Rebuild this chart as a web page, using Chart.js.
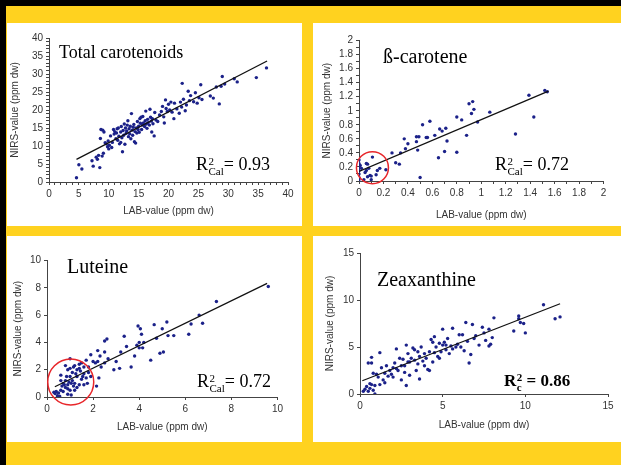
<!DOCTYPE html>
<html>
<head>
<meta charset="utf-8">
<script src="https://cdn.jsdelivr.net/npm/chart.js@4.4.0/dist/chart.umd.min.js"></script>
<style>
  html, body { margin: 0; padding: 0; }
  body { width: 621px; height: 465px; background: #ffd21f; position: relative; overflow: hidden; }
  #topbar { position: absolute; left: 0; top: 0; width: 621px; height: 6px; background: #000; }
  #leftbar { position: absolute; left: 0; top: 0; width: 6px; height: 465px; background: #000; }
  .panel { position: absolute; background: #fff; }
  .panel canvas { position: absolute; left: 0; top: 0; }
</style>
</head>
<body>
<div id="topbar"></div>
<div id="leftbar"></div>
<div class="panel" style="left:7px;top:23px;width:295px;height:203px"><canvas id="c1" width="295" height="203"></canvas></div>
<div class="panel" style="left:313px;top:23px;width:308px;height:203px"><canvas id="c2" width="308" height="203"></canvas></div>
<div class="panel" style="left:7px;top:236px;width:295px;height:206px"><canvas id="c3" width="295" height="206"></canvas></div>
<div class="panel" style="left:313px;top:236px;width:308px;height:206px"><canvas id="c4" width="308" height="206"></canvas></div>
<script>
// Total carotenoids: [LAB, NIRS]
const totalPoints = [[4.6,1.2],[5.0,4.8],[5.5,3.6],[7.2,5.9],[7.4,4.4],[7.9,6.9],[8.1,6.3],[8.3,7.4],[8.5,4.0],[8.6,12.1],[8.7,14.6],[8.9,7.2],[9.0,14.4],[9.1,8.0],[9.2,13.9],[9.4,10.9],[9.6,10.6],[9.8,9.8],[9.9,11.4],[10.0,9.2],[10.1,10.2],[10.3,12.8],[10.5,9.6],[10.6,11.0],[10.8,14.6],[10.9,13.3],[11.0,14.0],[11.2,12.0],[11.3,13.6],[11.4,14.8],[11.5,11.6],[11.6,15.0],[11.7,12.7],[11.8,10.6],[12.0,13.9],[12.0,11.0],[12.1,15.4],[12.2,12.3],[12.3,8.4],[12.4,14.3],[12.5,13.0],[12.6,16.1],[12.7,10.5],[12.8,15.0],[12.9,13.5],[13.0,14.2],[13.1,15.8],[13.2,17.0],[13.3,12.6],[13.4,14.8],[13.5,13.4],[13.6,15.5],[13.7,12.0],[13.8,19.0],[13.9,14.4],[14.0,13.0],[14.1,15.2],[14.2,16.0],[14.3,11.2],[14.4,14.0],[14.5,10.8],[14.6,15.0],[14.7,13.6],[14.8,16.8],[14.9,14.6],[15.0,15.5],[15.1,13.8],[15.2,17.6],[15.3,16.3],[15.4,18.0],[15.5,14.6],[15.6,15.8],[15.7,18.2],[15.8,16.4],[16.0,15.4],[16.1,17.0],[16.2,19.7],[16.3,16.1],[16.4,14.9],[16.5,17.4],[16.6,16.5],[16.8,15.8],[16.9,20.2],[17.0,18.0],[17.1,16.9],[17.2,13.9],[17.3,17.6],[17.4,16.2],[17.6,12.8],[17.7,19.3],[17.9,17.2],[18.2,16.8],[18.5,18.6],[18.8,19.6],[19.0,21.0],[19.2,18.1],[19.3,16.4],[19.5,22.8],[19.6,20.4],[19.8,19.6],[20.0,21.6],[20.2,20.0],[20.4,22.2],[20.6,19.4],[20.9,17.6],[21.0,21.9],[21.4,20.3],[21.8,19.1],[22.0,22.2],[22.2,20.8],[22.3,27.4],[22.5,23.0],[22.8,19.8],[23.0,21.4],[23.3,25.2],[23.5,22.6],[23.7,24.0],[24.2,22.3],[24.5,24.8],[24.8,21.9],[25.1,23.4],[25.4,27.0],[25.6,22.9],[27.0,23.9],[27.5,23.3],[28.0,26.4],[28.5,21.7],[28.8,26.6],[29.0,29.3],[29.4,27.2],[31.0,28.7],[31.5,27.8],[34.7,29.0],[36.4,31.7]];
const totalFit = [[4.6,6.3],[36.5,33.6]];

// ß-carotene
const betaPoints = [[0,0.3],[0,0.25],[0,0.2],[0,0.15],[0,0.1],[0,0.05],[0,0.02],[0.01,0.22],[0.02,0.18],[0.04,0.02],[0.05,0.12],[0.06,0.25],[0.07,0.24],[0.06,0.15],[0.08,0.18],[0.07,0.06],[0.09,0.08],[0.1,0.02],[0.1,0.07],[0.11,0.34],[0.14,0.09],[0.15,0.15],[0.17,0.18],[0.22,0.16],[0.27,0.4],[0.3,0.26],[0.33,0.24],[0.34,0.4],[0.37,0.6],[0.38,0.46],[0.4,0.53],[0.47,0.63],[0.47,0.56],[0.49,0.63],[0.48,0.44],[0.5,0.05],[0.52,0.8],[0.55,0.62],[0.56,0.62],[0.58,0.85],[0.62,0.65],[0.65,0.33],[0.66,0.74],[0.68,0.71],[0.7,0.42],[0.71,0.75],[0.72,0.57],[0.8,0.91],[0.8,0.41],[0.84,0.87],[0.88,0.65],[0.9,1.1],[0.92,0.96],[0.93,1.13],[0.94,1.02],[0.97,0.84],[1.07,0.98],[1.28,0.67],[1.39,1.22],[1.43,0.91],[1.52,1.29],[1.54,1.27]];
const betaFit = [[0,0.135],[1.55,1.28]];
const betaCircle = [[0.11,0.19]];

// Luteine
const luteinPoints = [[9.6,8.1],[7.35,7.0],[6.6,6.0],[6.75,5.4],[6.25,5.35],[6.15,4.6],[5.5,4.5],[5.2,5.5],[5.25,4.5],[5.0,5.0],[5.05,3.3],[4.9,3.2],[4.75,4.3],[4.65,5.3],[4.5,2.7],[4.2,4.0],[4.1,4.6],[4.05,5.0],[4.0,4.0],[3.95,5.2],[3.9,3.8],[4.15,3.6],[4.0,3.6],[3.8,3.0],[3.65,2.2],[3.45,3.7],[3.35,4.45],[3.15,2.1],[3.2,3.3],[3.0,2.6],[2.9,2.0],[2.65,2.8],[2.6,4.25],[2.5,4.1],[2.5,3.3],[2.5,2.5],[2.3,3.0],[2.2,3.4],[2.2,2.6],[2.25,1.4],[2.1,2.5],[2.0,2.6],[2.35,2.2],[2.15,0.8],[1.9,3.1],[1.8,2.2],[1.7,2.7],[1.6,2.2],[1.5,2.5],[1.4,2.1],[1.3,2.0],[1.2,2.3],[1.0,2.8],[1.1,1.8],[0.9,2.0],[0.8,2.3],[0.6,1.6],[0.6,1.2],[0.7,1.0],[0.8,0.7],[0.85,1.5],[1.0,1.5],[1.1,1.2],[1.2,1.0],[1.3,1.5],[1.5,1.3],[1.6,1.7],[1.7,1.4],[1.4,0.9],[0.9,0.6],[1.0,0.5],[1.2,0.5],[1.05,0.15],[0.9,0.2],[0.5,0.3],[0.4,0.4],[0.45,0.1],[0.55,0.05],[0.3,0.35],[0.35,0.25],[0.6,0.5],[0.7,0.4],[0.75,0.9],[1.15,0.8],[1.3,0.7],[1.6,0.9],[1.8,1.8],[1.9,1.5],[1.75,1.0],[0.95,1.1],[1.25,1.7],[1.45,1.9],[1.55,1.5],[0.8,1.2],[0.65,0.8],[1.0,2.1],[1.4,2.4],[1.15,2.2],[1.05,1.0],[0.9,0.9]];
const luteinFit = [[0.34,0.75],[9.55,8.33]];
const luteinCircle = [[1.03,1.1]];

// Zeaxanthine
const zeaPoints = [[12.1,8.2],[11.8,8.0],[11.1,9.5],[10.0,6.5],[9.9,7.5],[9.7,7.6],[9.6,8.3],[9.6,8.0],[9.3,6.7],[8.1,8.1],[8.0,6.0],[7.9,5.3],[7.8,5.1],[7.8,6.9],[7.5,6.5],[7.4,7.1],[7.2,5.2],[7.0,6.2],[6.8,7.4],[6.7,4.2],[6.6,3.3],[6.5,5.6],[6.4,7.6],[6.2,6.3],[6.1,5.0],[6.0,6.3],[5.9,5.3],[5.8,5.0],[5.6,7.0],[5.6,4.8],[5.4,4.3],[5.3,5.9],[5.2,4.7],[5.1,5.5],[5.0,6.9],[5.0,5.2],[4.9,4.5],[4.8,5.4],[4.7,4.0],[4.6,5.0],[4.5,6.1],[4.4,5.5],[4.3,5.8],[4.2,4.5],[4.2,2.5],[4.1,2.6],[4.0,3.8],[3.9,4.3],[3.8,3.5],[3.7,5.0],[3.6,4.0],[3.5,4.5],[3.5,3.2],[3.4,2.5],[3.3,4.7],[3.2,4.9],[3.1,3.8],[3.0,3.4],[3.0,2.0],[2.9,4.3],[2.8,5.2],[2.7,3.0],[2.7,2.3],[2.6,3.7],[2.5,3.0],[2.4,3.8],[2.3,2.5],[2.2,4.8],[2.1,3.3],[2.0,2.8],[2.0,1.8],[1.9,2.1],[1.8,2.5],[1.6,3.0],[1.5,2.2],[1.4,1.5],[1.3,2.8],[1.2,4.4],[1.2,1.0],[1.1,1.8],[1.0,2.1],[0.9,0.9],[0.8,2.2],[0.7,3.9],[0.7,3.3],[0.6,1.1],[0.6,0.6],[0.5,0.3],[0.5,3.3],[0.4,0.8],[0.3,0.5],[0.2,0.3],[0.8,0.4],[0.9,0.0],[0.7,1.0],[1.5,1.2],[2.5,1.5],[2.8,0.9],[3.6,1.6],[3.3,3.6],[4.5,4.4],[5.5,5.1],[6.9,5.9],[3.9,3.0],[4.4,3.4],[2.9,3.4],[2.2,2.7],[1.7,1.9],[5.2,5.2],[4.8,3.8],[6.3,4.6],[7.6,5.7]];
const zeaFit = [[0.14,1.41],[12.1,9.6]];

// axis ranges: [min, max, minor step, label step]
const totalAxis = [0, 40, 1, 5];
const betaAxis = [0, 2, 0.1, 0.2];
const luteinAxis = [0, 10, 2, 2];
const zeaAxis = [0, 15, 5, 5];

const SANS = '"Liberation Sans", Arial, sans-serif';
const SERIF = '"Liberation Serif", "Times New Roman", serif';

// titles and R² labels drawn on top of each panel
const panelText = {
    id: 'panelText',
    afterDraw(chart, args, o) {
        const ctx = chart.ctx;
        ctx.save();
        ctx.fillStyle = '#000';
        ctx.textBaseline = 'alphabetic';
        ctx.textAlign = 'left';
        ctx.font = o.titleSize + 'px ' + SERIF;
        ctx.fillText(o.title, o.titleX, o.titleY);

        const w = o.bold ? 'bold ' : '';
        const big = w + o.rSize + 'px ' + SERIF;
        const small = w + '11px ' + SERIF;
        let x = o.rX;
        ctx.font = big;
        ctx.fillText('R', x, o.rY);
        x += ctx.measureText('R').width + 0.5;
        ctx.font = small;
        ctx.fillText('2', x, o.rY - 5);
        const w2 = ctx.measureText('2').width;
        ctx.fillText(o.sub, x, o.rY + 5);
        x += Math.max(w2, ctx.measureText(o.sub).width);
        ctx.font = big;
        ctx.fillText(o.rest, x, o.rY);
        ctx.restore();
    }
};

function toXY(arr) {
    return arr.map(p => ({ x: p[0], y: p[1] }));
}

function axis(range, fitSize, isX, titleText, titlePad) {
    const [min, max, step, labelStep] = range;
    return {
        type: 'linear',
        position: isX ? 'bottom' : 'left',
        min: min,
        max: max,
        afterFit(scale) {
            if (isX) scale.height = fitSize; else scale.width = fitSize;
        },
        ticks: {
            stepSize: step,
            maxTicksLimit: 100,
            autoSkip: false,
            maxRotation: 0,
            minRotation: 0,
            padding: 3,
            color: '#333',
            font: { family: SANS, size: 10 },
            callback: function (v) {
                const k = Math.round(v / labelStep * 1000) / 1000;
                return Number.isInteger(k) ? String(Math.round(v * 100) / 100) : '';
            }
        },
        grid: {
            display: true,
            drawOnChartArea: false,
            drawTicks: true,
            tickLength: 3,
            tickColor: '#444'
        },
        border: { display: true, color: '#444', width: 1 },
        title: {
            display: true,
            text: titleText,
            color: '#333',
            font: { family: SANS, size: 10 },
            padding: isX ? { top: 0, bottom: titlePad } : { top: titlePad, bottom: 0 }
        }
    };
}

function makeChart(id, c) {
    const datasets = [];
    if (c.circle) {
        datasets.push({
            data: toXY(c.circle),
            pointRadius: c.circleR,
            pointHoverRadius: c.circleR,
            backgroundColor: 'rgba(0,0,0,0)',
            borderColor: '#e8262a',
            borderWidth: 1.5,
            clip: false
        });
    }
    datasets.push({
        data: toXY(c.fit),
        showLine: true,
        pointRadius: 0,
        borderColor: '#111',
        borderWidth: 1.3
    });
    datasets.push({
        data: toXY(c.points),
        pointRadius: 1.7,
        borderWidth: 0,
        backgroundColor: '#1b2189'
    });

    return new Chart(document.getElementById(id), {
        type: 'scatter',
        data: { datasets: datasets },
        options: {
            responsive: false,
            animation: false,
            events: [],
            layout: { padding: { left: 0, top: c.padTop, right: c.padRight, bottom: 0 } },
            plugins: {
                legend: { display: false },
                tooltip: { enabled: false },
                panelText: c.text
            },
            scales: {
                x: axis(c.xAxis, c.xHeight, true, 'LAB-value (ppm dw)', c.xTitlePad),
                y: axis(c.yAxis, c.yWidth, false, 'NIRS-value (ppm dw)', c.yTitlePad)
            }
        },
        plugins: [panelText]
    });
}

makeChart('c1', {
    points: totalPoints, fit: totalFit,
    xAxis: totalAxis, yAxis: totalAxis,
    padTop: 15, padRight: 14, yWidth: 42, xHeight: 44,
    xTitlePad: 9, yTitlePad: 2,
    text: { title: 'Total carotenoids', titleSize: 18, titleX: 52, titleY: 35,
            rX: 189, rY: 147, rSize: 18, sub: 'Cal', rest: '= 0.93' }
});

makeChart('c2', {
    points: betaPoints, fit: betaFit, circle: betaCircle, circleR: 16,
    xAxis: betaAxis, yAxis: betaAxis,
    padTop: 15, padRight: 13, yWidth: 46, xHeight: 45,
    xTitlePad: 5, yTitlePad: 8,
    text: { title: 'ß-carotene', titleSize: 20, titleX: 70, titleY: 40,
            rX: 182, rY: 147, rSize: 18, sub: 'Cal', rest: '= 0.72' }
});

makeChart('c3', {
    points: luteinPoints, fit: luteinFit, circle: luteinCircle, circleR: 23,
    xAxis: luteinAxis, yAxis: luteinAxis,
    padTop: 15, padRight: 13, yWidth: 40, xHeight: 45,
    xTitlePad: 9, yTitlePad: 5,
    text: { title: 'Luteine', titleSize: 20, titleX: 60, titleY: 37,
            rX: 190, rY: 151, rSize: 18, sub: 'Cal', rest: '= 0.72' }
});

makeChart('c4', {
    points: zeaPoints, fit: zeaFit,
    xAxis: zeaAxis, yAxis: zeaAxis,
    padTop: 17, padRight: 13, yWidth: 47, xHeight: 48,
    xTitlePad: 11, yTitlePad: 11,
    text: { title: 'Zeaxanthine', titleSize: 20, titleX: 64, titleY: 50,
            rX: 191, rY: 150, rSize: 17, bold: true, sub: 'c', rest: ' = 0.86' }
});
</script>
</body>
</html>
